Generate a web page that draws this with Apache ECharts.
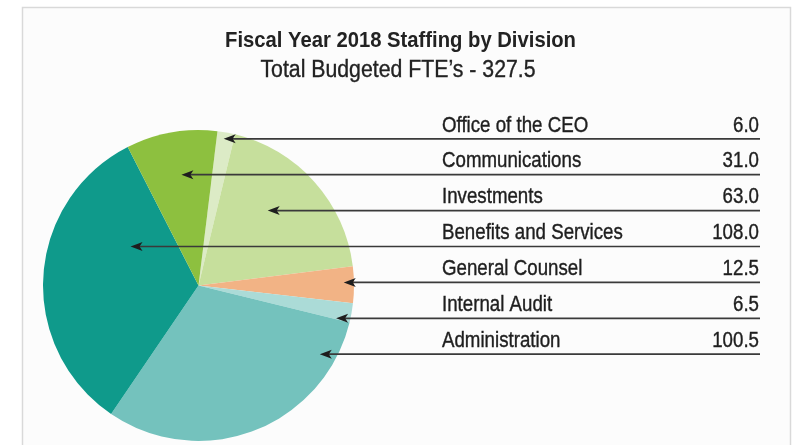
<!DOCTYPE html>
<html>
<head>
<meta charset="utf-8">
<script src="https://cdn.jsdelivr.net/npm/echarts@6/dist/echarts.min.js"></script>
<style>
  html, body { margin: 0; padding: 0; background: #ffffff; }
  #chart { width: 802px; height: 445px; }
</style>
</head>
<body>
<div id="chart"></div>
<script>
// Staffing by division, listed in the order of the table on the right
const divisions = ['Office of the CEO', 'Communications', 'Investments', 'Benefits and Services', 'General Counsel', 'Internal Audit', 'Administration'];
const fte = [6.0, 31.0, 63.0, 108.0, 12.5, 6.5, 100.5];
const totalFte = 327.5;
const titleText = 'Fiscal Year 2018 Staffing by Division';
const subtitleText = "Total Budgeted FTE\u2019s - " + totalFte.toFixed(1);

// Slice order around the pie, clockwise from the top (indices into divisions)
const sliceOrder = [0, 2, 4, 5, 6, 3, 1];

const colors = {
  'Office of the CEO': '#dcebc6',
  'Communications': '#8dc03f',
  'Investments': '#c6df9c',
  'Benefits and Services': '#0f9a8b',
  'General Counsel': '#f2b385',
  'Internal Audit': '#abdbd7',
  'Administration': '#74c2bd'
};

// Layout (text is narrowed horizontally to get a condensed face)
const FONT = '"Liberation Sans", Arial, sans-serif';
const INK = '#1e1e1e';
const pie = { cx: 198.5, cy: 285.5, r: 155.5, startAngle: 83 };
const table = { labelX: 442, valueX: 759, lineEndX: 760, firstRowY: 138.8, rowGap: 35.9, fontSize: 22, squeeze: 0.85 };
// Horizontal reach of each arrow tip from the pie centre, in radii (table order)
const arrowReach = [0.162, -0.11, 0.445, -0.437, 0.934, 0.885, 0.78];

const chart = echarts.init(document.getElementById('chart'), null, { renderer: 'canvas' });

const pieData = sliceOrder.map(i => ({
  name: divisions[i],
  value: fte[i],
  itemStyle: { color: colors[divisions[i]] }
}));

const graphics = [
  {
    type: 'rect',
    shape: { x: 22.5, y: 7.5, width: 768, height: 460 },
    style: { fill: '#fcfcfc', stroke: '#d9d9d9', lineWidth: 1.5 },
    z: -10
  },
  {
    type: 'text',
    x: 400.5, y: 41, scaleX: 0.92,
    style: { text: titleText, font: 'bold 22px ' + FONT, fill: '#222222', textAlign: 'center', textVerticalAlign: 'middle' },
    z: 10
  },
  {
    type: 'text',
    x: 398, y: 70.5, scaleX: 0.925,
    style: { text: subtitleText, font: '23px ' + FONT, fill: '#222222', stroke: '#222222', lineWidth: 0.35, textAlign: 'center', textVerticalAlign: 'middle' },
    z: 10
  }
];

divisions.forEach((name, i) => {
  const y = table.firstRowY + i * table.rowGap;
  const tipX = pie.cx + arrowReach[i] * pie.r;
  const font = table.fontSize + 'px ' + FONT;
  graphics.push({
    type: 'line',
    shape: { x1: tipX + 8, y1: y, x2: table.lineEndX, y2: y },
    style: { stroke: '#3a3a3a', lineWidth: 1.7 },
    z: 10
  });
  graphics.push({
    type: 'polygon',
    shape: { points: [[tipX, y], [tipX + 12, y - 4.5], [tipX + 9, y], [tipX + 12, y + 4.5]] },
    style: { fill: INK },
    z: 11
  });
  graphics.push({
    type: 'text',
    x: table.labelX, y: y - 13.3, scaleX: table.squeeze,
    style: { text: name, font: font, fill: INK, stroke: INK, lineWidth: 0.4, textAlign: 'left', textVerticalAlign: 'middle' },
    z: 10
  });
  graphics.push({
    type: 'text',
    x: table.valueX, y: y - 13.3, scaleX: table.squeeze,
    style: { text: fte[i].toFixed(1), font: font, fill: INK, stroke: INK, lineWidth: 0.4, textAlign: 'right', textVerticalAlign: 'middle' },
    z: 10
  });
});

chart.setOption({
  backgroundColor: '#ffffff',
  animation: false,
  series: [{
    type: 'pie',
    center: [pie.cx, pie.cy],
    radius: pie.r,
    startAngle: pie.startAngle,
    clockwise: true,
    label: { show: false },
    labelLine: { show: false },
    emphasis: { disabled: true },
    itemStyle: { borderWidth: 0 },
    data: pieData
  }],
  graphic: graphics
});
</script>
</body>
</html>
